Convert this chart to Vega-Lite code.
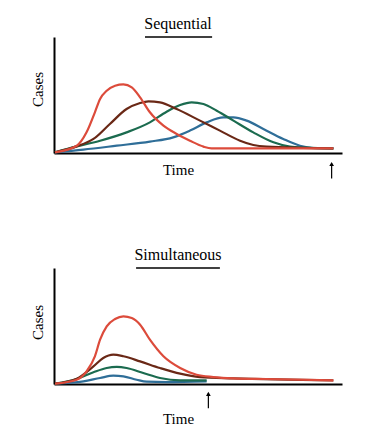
{
  "$schema": "https://vega.github.io/schema/vega-lite/v6.json",
  "padding": {"left": 30, "top": 16, "right": 5, "bottom": 5},
  "spacing": 67,
  "config": {
    "view": {"stroke": null},
    "font": "Liberation Serif",
    "axis": {"domainColor": "black", "domainWidth": 2, "ticks": false, "labels": false, "grid": false},
    "title": {"font": "Liberation Serif", "fontSize": 16, "fontWeight": "normal", "color": "black"}
  },
  "resolve": {"scale": {"color": "shared"}},
  "vconcat": [
    {
      "width": 288, "height": 116,
      "title": {"text": "Sequential", "dx": -20, "offset": 4},
      "layer": [
        {
          "data": {"values": [
            {"strain": "blue", "t": 0.35, "cases": 0.6}, {"strain": "blue", "t": 10.2, "cases": 2.9}, {"strain": "blue", "t": 21.8, "cases": 6.3}, {"strain": "blue", "t": 33.3, "cases": 9.8}, {"strain": "blue", "t": 41.4, "cases": 13.5}, {"strain": "blue", "t": 47.2, "cases": 19.3}, {"strain": "blue", "t": 53.0, "cases": 26.4}, {"strain": "blue", "t": 58.8, "cases": 30.7}, {"strain": "blue", "t": 62.3, "cases": 30.7}, {"strain": "blue", "t": 66.9, "cases": 27.9}, {"strain": "blue", "t": 72.7, "cases": 20.7}, {"strain": "blue", "t": 79.6, "cases": 12.1}, {"strain": "blue", "t": 85.4, "cases": 6.3}, {"strain": "blue", "t": 90.0, "cases": 4.3}, {"strain": "blue", "t": 97.0, "cases": 4.0},
            {"strain": "green", "t": 0.35, "cases": 0.6}, {"strain": "green", "t": 7.9, "cases": 5.7}, {"strain": "green", "t": 16.0, "cases": 10.6}, {"strain": "green", "t": 25.2, "cases": 17.8}, {"strain": "green", "t": 33.3, "cases": 26.4}, {"strain": "green", "t": 39.1, "cases": 35.6}, {"strain": "green", "t": 43.8, "cases": 41.4}, {"strain": "green", "t": 47.8, "cases": 43.7}, {"strain": "green", "t": 51.9, "cases": 42.2}, {"strain": "green", "t": 56.5, "cases": 36.5}, {"strain": "green", "t": 62.3, "cases": 27.9}, {"strain": "green", "t": 69.2, "cases": 17.8}, {"strain": "green", "t": 76.2, "cases": 9.2}, {"strain": "green", "t": 81.9, "cases": 5.5}, {"strain": "green", "t": 87.7, "cases": 4.6}, {"strain": "green", "t": 97.0, "cases": 4.0},
            {"strain": "brown", "t": 0.35, "cases": 0.6}, {"strain": "brown", "t": 7.9, "cases": 5.7}, {"strain": "brown", "t": 13.7, "cases": 12.1}, {"strain": "brown", "t": 19.4, "cases": 25.0}, {"strain": "brown", "t": 25.2, "cases": 37.9}, {"strain": "brown", "t": 29.9, "cases": 43.1}, {"strain": "brown", "t": 32.8, "cases": 44.5}, {"strain": "brown", "t": 36.8, "cases": 43.7}, {"strain": "brown", "t": 42.6, "cases": 37.9}, {"strain": "brown", "t": 50.7, "cases": 27.9}, {"strain": "brown", "t": 57.6, "cases": 19.3}, {"strain": "brown", "t": 64.6, "cases": 10.6}, {"strain": "brown", "t": 69.2, "cases": 6.9}, {"strain": "brown", "t": 73.8, "cases": 5.5}, {"strain": "brown", "t": 97.0, "cases": 4.0},
            {"strain": "red", "t": 0.35, "cases": 0.6}, {"strain": "red", "t": 7.9, "cases": 6.3}, {"strain": "red", "t": 11.3, "cases": 17.8}, {"strain": "red", "t": 14.2, "cases": 35.1}, {"strain": "red", "t": 16.0, "cases": 46.6}, {"strain": "red", "t": 18.3, "cases": 53.7}, {"strain": "red", "t": 21.2, "cases": 58.0}, {"strain": "red", "t": 24.1, "cases": 59.2}, {"strain": "red", "t": 27.0, "cases": 56.6}, {"strain": "red", "t": 29.9, "cases": 48.0}, {"strain": "red", "t": 33.3, "cases": 35.1}, {"strain": "red", "t": 38.0, "cases": 23.6}, {"strain": "red", "t": 42.6, "cases": 16.4}, {"strain": "red", "t": 47.2, "cases": 10.6}, {"strain": "red", "t": 51.9, "cases": 5.5}, {"strain": "red", "t": 54.7, "cases": 4.0}, {"strain": "red", "t": 73.8, "cases": 4.0}, {"strain": "red", "t": 97.0, "cases": 4.0}
          ]},
          "mark": {"type": "line", "interpolate": "monotone", "strokeWidth": 2.2},
          "encoding": {
            "x": {"field": "t", "type": "quantitative", "scale": {"domain": [0, 100]}, "axis": {"title": "Time", "titleX": 124, "titlePadding": 9, "titleFont": "Liberation Serif", "titleFontSize": 15, "titleFontWeight": "normal", "titleColor": "black"}},
            "y": {"field": "cases", "type": "quantitative", "scale": {"domain": [0, 100]}, "axis": {"title": "Cases", "titleY": 52, "titlePadding": 9, "titleFont": "Liberation Serif", "titleFontSize": 15, "titleFontWeight": "normal", "titleColor": "black"}},
            "color": {"field": "strain", "type": "nominal", "scale": {"domain": ["red", "brown", "green", "blue"], "range": ["#dc4b3b", "#6a2816", "#1b6b4f", "#2f6e98"]}, "legend": null},
            "order": {"field": "t", "type": "quantitative"}
          }
        },
        {
          "data": {"values": [{}]},
          "mark": {"type": "rule", "color": "black", "strokeWidth": 1.5},
          "encoding": {"x": {"datum": 31.6, "type": "quantitative"}, "x2": {"datum": 54.9}, "y": {"datum": 100, "type": "quantitative"}}
        },
        {
          "data": {"values": [{}]},
          "mark": {"type": "rule", "color": "black", "strokeWidth": 1.2},
          "encoding": {"x": {"datum": 96.4, "type": "quantitative"}, "y": {"datum": -22, "type": "quantitative"}, "y2": {"datum": -9}}
        },
        {
          "data": {"values": [{}]},
          "mark": {"type": "point", "shape": "triangle-up", "filled": true, "color": "black", "size": 22, "opacity": 1},
          "encoding": {"x": {"datum": 96.4, "type": "quantitative"}, "y": {"datum": -9.5, "type": "quantitative"}}
        }
      ]
    },
    {
      "width": 288, "height": 116,
      "title": {"text": "Simultaneous", "dx": -20, "offset": 4},
      "layer": [
        {
          "data": {"values": [
            {"strain": "blue", "t": 0.35, "cases": 0.3}, {"strain": "blue", "t": 10.2, "cases": 2.3}, {"strain": "blue", "t": 16.0, "cases": 5.2}, {"strain": "blue", "t": 20.6, "cases": 7.2}, {"strain": "blue", "t": 24.1, "cases": 6.6}, {"strain": "blue", "t": 28.7, "cases": 3.7}, {"strain": "blue", "t": 32.2, "cases": 2.0}, {"strain": "blue", "t": 39.1, "cases": 1.7}, {"strain": "blue", "t": 53.0, "cases": 2.3},
            {"strain": "green", "t": 0.35, "cases": 0.3}, {"strain": "green", "t": 7.9, "cases": 4.3}, {"strain": "green", "t": 13.7, "cases": 10.1}, {"strain": "green", "t": 18.3, "cases": 13.8}, {"strain": "green", "t": 21.8, "cases": 14.7}, {"strain": "green", "t": 25.2, "cases": 13.8}, {"strain": "green", "t": 31.0, "cases": 9.5}, {"strain": "green", "t": 36.8, "cases": 5.2}, {"strain": "green", "t": 43.8, "cases": 3.2}, {"strain": "green", "t": 53.0, "cases": 3.2},
            {"strain": "brown", "t": 0.35, "cases": 0.3}, {"strain": "brown", "t": 7.9, "cases": 4.6}, {"strain": "brown", "t": 13.7, "cases": 15.2}, {"strain": "brown", "t": 17.1, "cases": 22.4}, {"strain": "brown", "t": 20.6, "cases": 25.3}, {"strain": "brown", "t": 24.1, "cases": 23.9}, {"strain": "brown", "t": 29.9, "cases": 19.5}, {"strain": "brown", "t": 36.8, "cases": 13.8}, {"strain": "brown", "t": 43.8, "cases": 8.9}, {"strain": "brown", "t": 50.7, "cases": 6.0}, {"strain": "brown", "t": 62.3, "cases": 4.9}, {"strain": "brown", "t": 97.0, "cases": 3.2},
            {"strain": "red", "t": 0.35, "cases": 0.3}, {"strain": "red", "t": 7.9, "cases": 3.7}, {"strain": "red", "t": 11.3, "cases": 10.9}, {"strain": "red", "t": 14.2, "cases": 23.9}, {"strain": "red", "t": 16.0, "cases": 38.2}, {"strain": "red", "t": 18.3, "cases": 49.7}, {"strain": "red", "t": 21.2, "cases": 56.0}, {"strain": "red", "t": 24.1, "cases": 58.3}, {"strain": "red", "t": 27.0, "cases": 56.9}, {"strain": "red", "t": 29.9, "cases": 51.1}, {"strain": "red", "t": 33.3, "cases": 38.2}, {"strain": "red", "t": 38.0, "cases": 23.9}, {"strain": "red", "t": 43.8, "cases": 13.8}, {"strain": "red", "t": 49.5, "cases": 8.0}, {"strain": "red", "t": 55.3, "cases": 6.0}, {"strain": "red", "t": 62.3, "cases": 4.9}, {"strain": "red", "t": 73.8, "cases": 4.3}, {"strain": "red", "t": 97.0, "cases": 3.2}
          ]},
          "mark": {"type": "line", "interpolate": "monotone", "strokeWidth": 2.2},
          "encoding": {
            "x": {"field": "t", "type": "quantitative", "scale": {"domain": [0, 100]}, "axis": {"title": "Time", "titleX": 124, "titlePadding": 27, "titleFont": "Liberation Serif", "titleFontSize": 15, "titleFontWeight": "normal", "titleColor": "black"}},
            "y": {"field": "cases", "type": "quantitative", "scale": {"domain": [0, 100]}, "axis": {"title": "Cases", "titleY": 54, "titlePadding": 9, "titleFont": "Liberation Serif", "titleFontSize": 15, "titleFontWeight": "normal", "titleColor": "black"}},
            "color": {"field": "strain", "type": "nominal", "scale": {"domain": ["red", "brown", "green", "blue"], "range": ["#dc4b3b", "#6a2816", "#1b6b4f", "#2f6e98"]}, "legend": null},
            "order": {"field": "t", "type": "quantitative"}
          }
        },
        {
          "data": {"values": [{}]},
          "mark": {"type": "rule", "color": "black", "strokeWidth": 1.5},
          "encoding": {"x": {"datum": 28.5, "type": "quantitative"}, "x2": {"datum": 57.6}, "y": {"datum": 100, "type": "quantitative"}}
        },
        {
          "data": {"values": [{}]},
          "mark": {"type": "rule", "color": "black", "strokeWidth": 1.2},
          "encoding": {"x": {"datum": 53.6, "type": "quantitative"}, "y": {"datum": -21, "type": "quantitative"}, "y2": {"datum": -8}}
        },
        {
          "data": {"values": [{}]},
          "mark": {"type": "point", "shape": "triangle-up", "filled": true, "color": "black", "size": 22, "opacity": 1},
          "encoding": {"x": {"datum": 53.6, "type": "quantitative"}, "y": {"datum": -8.5, "type": "quantitative"}}
        }
      ]
    }
  ]
}
